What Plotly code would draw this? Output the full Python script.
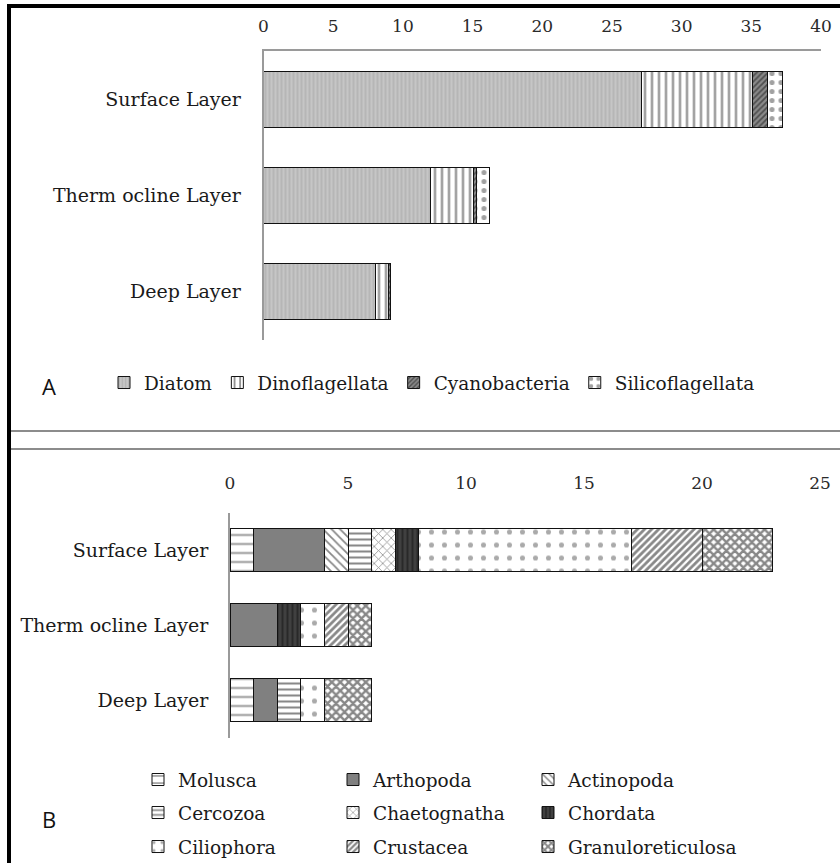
import plotly.graph_objects as go

W, H = 840, 863

# ---------------- data ----------------
layers = ["Surface Layer", "Therm ocline Layer", "Deep Layer"]

# Panel A (phytoplankton)
diatom = [27.1, 12.0, 8.0]
dinoflagellata = [8.0, 3.1, 1.0]
cyanobacteria = [1.05, 0.15, 0.1]
silicoflagellata = [1.1, 0.95, 0.0]
ticks_a = [0, 5, 10, 15, 20, 25, 30, 35, 40]

# Panel B (zooplankton)
molusca = [1, 0, 1]
arthopoda = [3, 2, 1]
actinopoda = [1, 0, 0]
cercozoa = [1, 0, 1]
chaetognatha = [1, 0, 0]
chordata = [1, 1, 0]
ciliophora = [9, 1, 1]
crustacea = [3, 1, 0]
granuloreticulosa = [3, 1, 2]
ticks_b = [0, 5, 10, 15, 20, 25]

SERIF = "DejaVu Serif"

def px_x(p):
    return p / W

def px_y(p):
    return 1 - p / H

fig = go.Figure()

def pat(shape, fg, bg, size, sol):
    return dict(shape=shape, fgcolor=fg, bgcolor=bg, size=size, solidity=sol)

series_a = [
    ("Diatom", diatom, pat("|", "#8e8e8e", "#c6c6c6", 4, 0.3)),
    ("Dinoflagellata", dinoflagellata, pat("|", "#111111", "#ffffff", 7, 0.3)),
    ("Cyanobacteria", cyanobacteria, pat("/", "#111111", "#8a8a8a", 4, 0.45)),
    ("Silicoflagellata", silicoflagellata, pat(".", "#444444", "#ffffff", 9, 0.25)),
]
for name, vals, p in series_a:
    fig.add_trace(go.Bar(
        name=name, y=layers, x=vals, orientation="h",
        xaxis="x", yaxis="y", legend="legend",
        marker=dict(color=p["bgcolor"], line=dict(color="#111111", width=1), pattern=p),
    ))

series_b = [
    ("Molusca", molusca, pat("-", "#222222", "#ffffff", 9, 0.2)),
    ("Arthopoda", arthopoda, pat("", "#808080", "#808080", 8, 0.3)),
    ("Actinopoda", actinopoda, pat("\\", "#111111", "#ffffff", 6, 0.3)),
    ("Cercozoa", cercozoa, pat("-", "#111111", "#ffffff", 6, 0.35)),
    ("Chaetognatha", chaetognatha, pat("x", "#222222", "#ffffff", 6, 0.25)),
    ("Chordata", chordata, pat("|", "#111111", "#404040", 5, 0.4)),
    ("Ciliophora", ciliophora, pat(".", "#555555", "#ffffff", 13, 0.12)),
    ("Crustacea", crustacea, pat("/", "#111111", "#ffffff", 5, 0.55)),
    ("Granuloreticulosa", granuloreticulosa, pat("x", "#111111", "#ffffff", 6, 0.65)),
]
for i, (name, vals, p) in enumerate(series_b):
    fig.add_trace(go.Bar(
        name=name, y=layers, x=vals, orientation="h",
        xaxis="x2", yaxis="y2", legend=f"legend{i + 2}",
        marker=dict(color=p["bgcolor"], line=dict(color="#111111", width=1), pattern=p),
    ))

tickfont = dict(family=SERIF, size=17, color="#2a2a2a")
catfont = dict(family=SERIF, size=19, color="#1a1a1a")
legfont = dict(family=SERIF, size=18.5, color="#1a1a1a")

col_x = [138, 333, 528]
row_y = [780, 813, 847]

legends = {}
for i in range(len(series_b)):
    r, c = divmod(i, 3)
    legends[f"legend{i + 2}"] = dict(
        orientation="h", x=px_x(col_x[c]), y=px_y(row_y[r]), xanchor="left",
        yanchor="middle", font=legfont, bgcolor="rgba(0,0,0,0)", itemwidth=30)

fig.update_layout(
    width=W, height=H,
    margin=dict(l=0, r=0, t=0, b=0, autoexpand=False),
    paper_bgcolor="white", plot_bgcolor="white",
    barmode="stack", bargap=0.42,
    showlegend=True,
    xaxis=dict(domain=[px_x(263.5), px_x(821)], range=[0, 40], side="top", anchor="y",
               tickvals=ticks_a, showgrid=False, zeroline=False, showline=True,
               linecolor="#9a9a9a", linewidth=2, ticks="", tickfont=tickfont,
               ticklabelstandoff=10, fixedrange=True),
    yaxis=dict(domain=[px_y(340), px_y(51)], categoryorder="array", categoryarray=layers,
               autorange="reversed", showgrid=False, zeroline=False, showline=True,
               linecolor="#9a9a9a", linewidth=1.5, ticks="", tickfont=catfont,
               ticklabelstandoff=17, anchor="x"),
    xaxis2=dict(domain=[px_x(230), px_x(820)], range=[0, 25], side="top", anchor="y2",
                tickvals=ticks_b, showgrid=False, zeroline=False, showline=False,
                ticks="", tickfont=tickfont, ticklabelstandoff=19),
    yaxis2=dict(domain=[px_y(737.5), px_y(512.5)], categoryorder="array", categoryarray=layers,
                autorange="reversed", showgrid=False, zeroline=False, showline=True,
                linecolor="#9a9a9a", linewidth=1.5, ticks="", tickfont=catfont,
                ticklabelstandoff=16, anchor="x2"),
    legend=dict(orientation="h", x=px_x(104), y=px_y(383), xanchor="left", yanchor="middle",
                font=legfont, bgcolor="rgba(0,0,0,0)", traceorder="normal", itemwidth=30),
    annotations=[
        dict(text="A", x=px_x(40), y=px_y(386), xref="paper", yref="paper",
             showarrow=False, font=dict(family="Open Sans", size=22, color="#111111")),
        dict(text="B", x=px_x(40), y=px_y(836), xref="paper", yref="paper",
             showarrow=False, font=dict(family="Open Sans", size=22, color="#111111")),
    ],
    shapes=[
        dict(type="rect", xref="paper", yref="paper", x0=px_x(7), x1=1, y0=px_y(8), y1=px_y(4),
             fillcolor="#000000", line=dict(width=0)),
        dict(type="rect", xref="paper", yref="paper", x0=px_x(7), x1=px_x(11), y0=0, y1=px_y(4),
             fillcolor="#000000", line=dict(width=0)),
        dict(type="line", xref="paper", yref="paper", x0=px_x(11), x1=1, y0=px_y(431), y1=px_y(431),
             line=dict(color="#8c8c8c", width=2)),
        dict(type="line", xref="paper", yref="paper", x0=px_x(11), x1=1, y0=px_y(449), y1=px_y(449),
             line=dict(color="#8c8c8c", width=2)),
    ],
)
fig.update_layout(**legends)

fig.write_html("out.html")
